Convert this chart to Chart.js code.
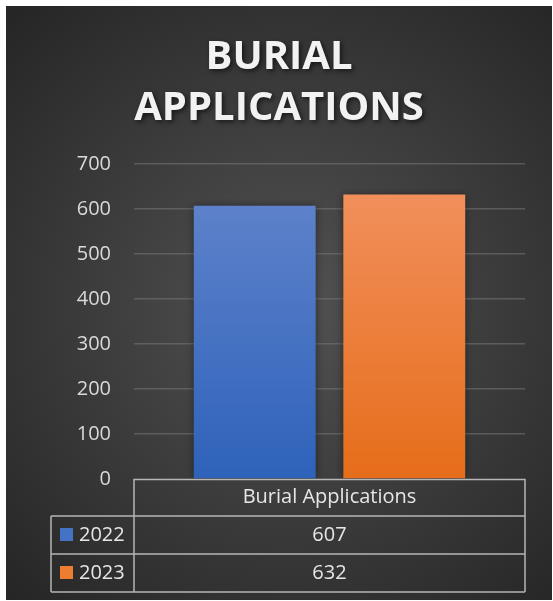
<!DOCTYPE html>
<html>
<head>
<meta charset="utf-8">
<script src="https://cdn.jsdelivr.net/npm/chart.js@4"></script>
<style>
  html, body { margin: 0; padding: 0; background: #ffffff; }
  #wrap { position: absolute; left: 6px; top: 6px; width: 546px; height: 594px; }
</style>
</head>
<body>
<div id="wrap"><canvas id="burialChart"></canvas></div>
<script>
const titleLines = ['BURIAL', 'APPLICATIONS'];
const categories = ['Burial Applications'];
const years = ['2022', '2023'];
const values2022 = [607];
const values2023 = [632];
const yMin = 0;
const yMax = 700;
const yStep = 100;

const FONT = "'Open Sans', 'DejaVu Sans', sans-serif";

// vertical gradient running from the top of each bar down to zero
function barFill(topColor, bottomColor) {
  return (context) => {
    const chart = context.chart;
    if (!chart.chartArea) return topColor;
    const yScale = chart.scales.y;
    const top = yScale.getPixelForValue(context.raw);
    const bottom = yScale.getPixelForValue(0);
    const g = chart.ctx.createLinearGradient(0, top, 0, bottom);
    g.addColorStop(0, topColor);
    g.addColorStop(1, bottomColor);
    return g;
  };
}

const backdrop = {
  id: 'backdrop',
  beforeDraw(chart) {
    const {ctx, width, height} = chart;
    ctx.save();
    const g = ctx.createRadialGradient(285, 300, 0, 285, 300, 430);
    g.addColorStop(0, '#525252');
    g.addColorStop(1, '#232323');
    ctx.fillStyle = g;
    ctx.fillRect(0, 0, width, height);
    ctx.restore();
  }
};

const bigTitle = {
  id: 'bigTitle',
  afterDraw(chart) {
    const ctx = chart.ctx;
    const cx = chart.width / 2;
    ctx.save();
    ctx.font = 'bold 40px ' + FONT;
    ctx.textAlign = 'center';
    ctx.textBaseline = 'middle';
    ctx.fillStyle = '#f2f2f2';
    ctx.shadowColor = 'rgba(0,0,0,0.6)';
    ctx.shadowBlur = 5;
    ctx.shadowOffsetX = 2;
    ctx.shadowOffsetY = 2;
    titleLines.forEach((line, i) => {
      ctx.fillText(line, cx, 52 + i * 51);
    });
    ctx.restore();
  }
};

const barShadow = {
  id: 'barShadow',
  beforeDatasetDraw(chart) {
    const ctx = chart.ctx;
    ctx.save();
    ctx.shadowColor = 'rgba(0,0,0,0.45)';
    ctx.shadowBlur = 8;
  },
  afterDatasetDraw(chart) {
    chart.ctx.restore();
  }
};

// data table under the plot: category header, then one row per year
const dataTable = {
  id: 'dataTable',
  afterDraw(chart) {
    const ctx = chart.ctx;
    const area = chart.chartArea;
    const xScale = chart.scales.x;
    const left = 45;
    const y0 = area.bottom + 0.5;
    const y1 = y0 + 36.5;
    const rowH = 38;
    ctx.save();
    ctx.strokeStyle = 'rgba(205,205,205,0.85)';
    ctx.lineWidth = 1.5;
    ctx.beginPath();
    ctx.moveTo(area.left, y1);
    ctx.lineTo(area.left, y0);
    ctx.lineTo(area.right, y0);
    ctx.lineTo(area.right, y1 + rowH * chart.data.datasets.length);
    ctx.moveTo(left, y1);
    ctx.lineTo(area.right, y1);
    chart.data.datasets.forEach((ds, i) => {
      const yb = y1 + rowH * (i + 1);
      ctx.moveTo(left, yb);
      ctx.lineTo(area.right, yb);
    });
    ctx.moveTo(left, y1);
    ctx.lineTo(left, y1 + rowH * chart.data.datasets.length);
    ctx.moveTo(area.left, y1);
    ctx.lineTo(area.left, y1 + rowH * chart.data.datasets.length);
    ctx.stroke();

    ctx.font = '20px ' + FONT;
    ctx.fillStyle = '#e6e6e6';
    ctx.textBaseline = 'middle';
    ctx.textAlign = 'center';
    chart.data.labels.forEach((label, j) => {
      ctx.fillText(label, xScale.getPixelForValue(j), (y0 + y1) / 2);
    });
    chart.data.datasets.forEach((ds, i) => {
      const cy = y1 + rowH * i + rowH / 2;
      ctx.fillStyle = ds.swatch;
      ctx.fillRect(left + 9, cy - 7, 13, 13);
      ctx.fillStyle = '#e6e6e6';
      ctx.textAlign = 'left';
      ctx.fillText(ds.label, left + 28, cy);
      ctx.textAlign = 'center';
      ds.data.forEach((v, j) => {
        ctx.fillText(String(v), xScale.getPixelForValue(j), cy);
      });
    });
    ctx.restore();
  }
};

const ctxB = document.getElementById('burialChart').getContext('2d');

const dataB = {
  labels: categories,
  datasets: [{
    label: years[0],
    data: values2022,
    swatch: '#4472c4',
    backgroundColor: barFill('#5d81ca', '#2e62ba'),
    categoryPercentage: 0.765,
    barPercentage: 0.815
  }, {
    label: years[1],
    data: values2023,
    swatch: '#ed7d31',
    backgroundColor: barFill('#f18f5b', '#e66d1a'),
    categoryPercentage: 0.765,
    barPercentage: 0.815
  }]
};

const configB = {
  type: 'bar',
  data: dataB,
  plugins: [backdrop, barShadow, dataTable, bigTitle],
  options: {
    responsive: true,
    maintainAspectRatio: false,
    animation: false,
    layout: {
      padding: { top: 158, bottom: 121, right: 27, left: 0 }
    },
    plugins: {
      legend: { display: false },
      title: { display: false },
      tooltip: { enabled: false }
    },
    scales: {
      x: {
        display: false
      },
      y: {
        min: yMin,
        max: yMax,
        afterFit(scale) {
          scale.width = 128;
        },
        border: { display: false },
        grid: {
          color: (c) => c.tick.value === 0 ? 'rgba(0,0,0,0)' : 'rgba(120,120,120,0.55)',
          lineWidth: 1.5,
          drawTicks: false
        },
        ticks: {
          stepSize: yStep,
          padding: 23,
          color: '#d9d9d9',
          font: { family: FONT, size: 20 }
        }
      }
    }
  }
};

const burialChart = new Chart(ctxB, configB);
</script>
</body>
</html>
